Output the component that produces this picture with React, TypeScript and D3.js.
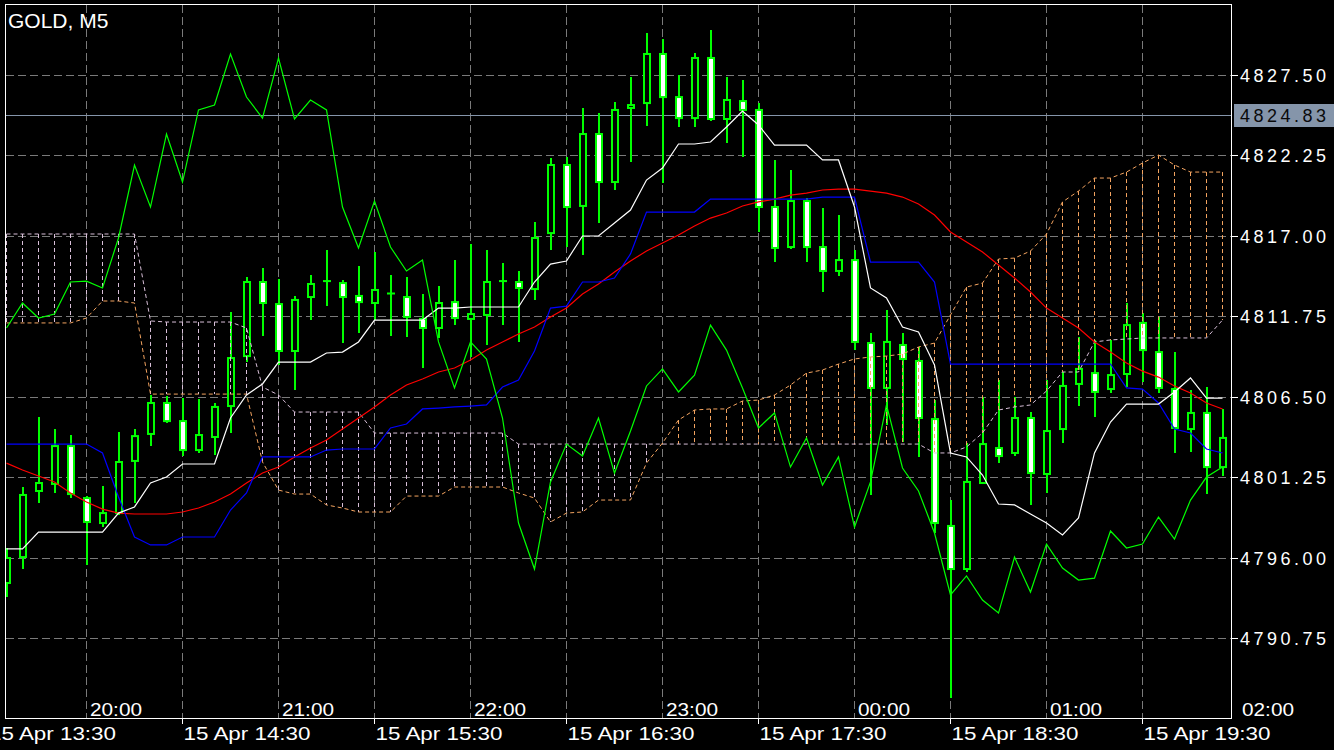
import React from "react";
import * as d3 from "d3";

// ---- data (GOLD, M5) ----
const opens = [
  4794.37, 4796.06, 4800.37, 4800.83, 4803.30, 4799.91, 4798.28, 4798.93, 4802.33, 4804.09,
  4806.11, 4804.93, 4803.04, 4803.89, 4805.91, 4809.17, 4814.00, 4812.56, 4809.50, 4813.02,
  4814.00, 4813.93, 4813.09, 4812.63, 4813.25, 4813.02, 4811.59, 4811.00, 4812.69, 4811.59,
  4811.85, 4814.06, 4814.00, 4813.54, 4817.19, 4821.63, 4818.96, 4823.65, 4820.52, 4825.35,
  4825.67, 4828.87, 4826.06, 4824.69, 4828.61, 4824.63, 4825.80, 4825.22, 4818.89, 4816.28,
  4819.28, 4816.28, 4814.72, 4815.43, 4810.02, 4807.09, 4809.89, 4808.85, 4805.06, 4798.09,
  4795.28, 4800.89, 4803.17, 4802.85, 4805.13, 4801.48, 4804.41, 4807.35, 4808.06, 4807.02,
  4808.00, 4811.33, 4809.43, 4807.02, 4804.41, 4805.46, 4801.93,
];
const highs = [
  4796.65, 4800.63, 4805.19, 4804.41, 4804.02, 4800.04, 4800.69, 4804.22, 4804.41, 4806.63,
  4806.56, 4806.43, 4806.37, 4806.11, 4812.04, 4814.33, 4814.91, 4814.19, 4813.09, 4814.46,
  4816.09, 4814.13, 4815.04, 4815.96, 4814.46, 4814.33, 4813.22, 4813.74, 4815.43, 4816.48,
  4816.09, 4815.24, 4814.72, 4817.91, 4822.09, 4822.15, 4825.35, 4825.02, 4825.74, 4827.37,
  4830.24, 4829.85, 4827.50, 4828.93, 4830.43, 4827.37, 4827.17, 4825.67, 4821.96, 4821.30,
  4819.48, 4818.83, 4818.37, 4816.09, 4810.67, 4812.17, 4810.67, 4809.76, 4806.30, 4799.78,
  4803.50, 4806.50, 4807.61, 4806.50, 4805.52, 4807.61, 4808.13, 4810.41, 4810.22, 4810.22,
  4812.63, 4811.98, 4811.72, 4809.43, 4806.96, 4807.15, 4805.72,
];
const lows = [
  4793.46, 4795.28, 4799.59, 4800.24, 4799.91, 4795.54, 4798.02, 4798.80, 4799.59, 4803.30,
  4804.80, 4802.65, 4802.85, 4802.72, 4804.15, 4808.78, 4810.48, 4808.59, 4806.96, 4811.52,
  4812.43, 4810.02, 4810.67, 4811.52, 4810.48, 4810.41, 4808.39, 4810.35, 4811.19, 4809.11,
  4809.89, 4811.19, 4810.09, 4812.83, 4816.09, 4816.28, 4815.76, 4817.85, 4820.00, 4821.83,
  4824.17, 4820.46, 4824.11, 4824.11, 4824.50, 4823.06, 4822.15, 4817.26, 4815.30, 4816.15,
  4815.30, 4813.35, 4814.39, 4809.56, 4800.11, 4804.67, 4803.56, 4802.59, 4797.63, 4786.87,
  4795.09, 4800.89, 4802.19, 4802.65, 4799.46, 4800.24, 4803.50, 4805.91, 4805.19, 4806.76,
  4807.15, 4807.48, 4806.76, 4802.85, 4802.91, 4800.17, 4801.35,
];
const closes = [
  4796.00, 4800.11, 4800.89, 4803.30, 4800.17, 4798.35, 4798.93, 4802.26, 4803.95, 4806.11,
  4804.93, 4803.04, 4804.02, 4805.85, 4809.04, 4814.00, 4812.63, 4809.50, 4812.83, 4813.87,
  4814.06, 4813.02, 4812.69, 4813.48, 4813.25, 4811.72, 4811.00, 4812.63, 4811.65, 4811.91,
  4814.00, 4814.06, 4813.61, 4816.87, 4821.63, 4818.89, 4823.65, 4820.52, 4825.22, 4825.54,
  4828.87, 4826.06, 4824.69, 4828.61, 4824.63, 4825.87, 4825.22, 4818.89, 4816.22, 4819.28,
  4816.28, 4814.72, 4815.43, 4810.09, 4807.09, 4810.09, 4808.98, 4805.13, 4798.28, 4795.28,
  4800.96, 4803.43, 4802.65, 4805.13, 4801.54, 4804.28, 4807.22, 4808.33, 4806.83, 4807.93,
  4811.19, 4809.56, 4807.09, 4804.48, 4805.46, 4801.93, 4803.83,
];
// closes of the 26 bars after the visible window (they feed the lagging span)
const chikouAhead = [
  4800.76, 4802.59, 4798.02, 4800.96, 4805.98, 4801.87, 4800.37, 4797.63, 4793.59, 4794.83,
  4793.26, 4792.41, 4796.06, 4793.78, 4796.91, 4795.35, 4794.56, 4794.69, 4797.76, 4796.65,
  4796.91, 4798.67, 4797.24, 4799.78, 4801.28, 4801.93,
];
const tenkan = [
  4796.59, 4796.59, 4797.69, 4797.69, 4797.69, 4797.69, 4797.69, 4798.93, 4799.33, 4800.89,
  4801.28, 4802.13, 4802.13, 4802.13, 4805.13, 4806.63, 4807.35, 4808.78, 4808.78, 4808.78,
  4809.37, 4809.43, 4810.09, 4811.52, 4811.52, 4811.52, 4811.52, 4812.30, 4812.30, 4812.37,
  4812.37, 4812.37, 4812.37, 4814.00, 4815.17, 4815.37, 4817.00, 4817.00, 4817.85, 4818.69,
  4820.65, 4821.43, 4823.00, 4823.00, 4823.13, 4824.11, 4825.15, 4824.24, 4822.93, 4822.93,
  4822.93, 4821.96, 4821.96, 4818.89, 4813.61, 4812.96, 4811.06, 4810.74, 4808.59, 4802.85,
  4802.59, 4801.41, 4799.52, 4799.46, 4798.87, 4798.28, 4797.50, 4798.61, 4802.85, 4804.87,
  4806.04, 4806.04, 4806.04, 4806.83, 4807.74, 4806.43, 4806.43,
];
const kijun = [
  4803.43, 4803.43, 4803.43, 4803.43, 4803.43, 4803.43, 4802.85, 4799.98, 4797.37, 4796.85,
  4796.85, 4797.37, 4797.37, 4797.37, 4799.13, 4800.24, 4802.59, 4802.59, 4802.59, 4802.59,
  4803.04, 4803.11, 4803.11, 4803.11, 4804.48, 4804.74, 4805.72, 4805.78, 4805.85, 4805.91,
  4805.98, 4807.15, 4807.61, 4809.50, 4812.30, 4812.43, 4814.00, 4814.00, 4814.26, 4815.83,
  4818.56, 4818.56, 4818.56, 4818.56, 4819.41, 4819.41, 4819.41, 4819.41, 4819.41, 4819.41,
  4819.41, 4819.54, 4819.54, 4819.54, 4815.30, 4815.30, 4815.30, 4815.30, 4814.00, 4808.65,
  4808.65, 4808.65, 4808.65, 4808.65, 4808.65, 4808.65, 4808.65, 4808.65, 4808.65, 4808.65,
  4807.09, 4807.02, 4806.11, 4804.41, 4804.15, 4803.11, 4802.85,
];
const movingAvg = [
  4802.19, 4801.74, 4801.35, 4800.96, 4800.24, 4799.65, 4799.19, 4798.93, 4798.87, 4798.87,
  4798.87, 4799.00, 4799.26, 4799.65, 4800.17, 4800.89, 4801.54, 4801.93, 4802.59, 4803.17,
  4803.69, 4804.41, 4805.13, 4805.85, 4806.63, 4807.28, 4807.67, 4808.13, 4808.39, 4808.91,
  4809.56, 4810.09, 4810.61, 4811.06, 4811.72, 4812.30, 4813.22, 4813.87, 4814.65, 4815.37,
  4816.02, 4816.54, 4817.06, 4817.65, 4818.17, 4818.50, 4818.96, 4819.22, 4819.41, 4819.67,
  4819.80, 4820.00, 4820.06, 4820.06, 4819.93, 4819.80, 4819.54, 4819.09, 4818.37, 4817.26,
  4816.61, 4815.96, 4815.11, 4814.26, 4813.35, 4812.30, 4811.65, 4811.00, 4810.09, 4809.43,
  4808.72, 4808.19, 4807.80, 4807.22, 4806.76, 4806.11, 4805.72,
];
const spanA = [
  4811.33, 4811.33, 4811.33, 4811.33, 4811.33, 4811.65, 4812.76, 4812.76, 4812.63, 4806.69,
  4806.69, 4806.69, 4806.69, 4806.69, 4806.69, 4806.69, 4802.26, 4800.43, 4800.17, 4800.17,
  4799.46, 4799.26, 4799.00, 4799.00, 4799.00, 4800.04, 4800.04, 4800.04, 4800.63, 4800.63,
  4800.63, 4800.63, 4800.24, 4799.91, 4798.35, 4798.93, 4799.00, 4799.78, 4799.78, 4799.78,
  4802.19, 4803.50, 4805.00, 4805.65, 4805.72, 4805.72, 4806.24, 4806.30, 4806.63, 4807.28,
  4808.06, 4808.26, 4808.65, 4808.98, 4809.11, 4809.17, 4809.30, 4809.76, 4810.02, 4811.85,
  4813.67, 4813.93, 4815.50, 4815.56, 4816.02, 4817.13, 4819.22, 4819.93, 4820.78, 4820.78,
  4821.17, 4821.76, 4822.28, 4821.63, 4821.17, 4821.17, 4821.17,
];
const spanB = [
  4817.13, 4817.13, 4817.13, 4817.13, 4817.13, 4817.13, 4817.13, 4817.13, 4817.13, 4811.46,
  4811.39, 4811.39, 4811.39, 4811.39, 4811.39, 4811.00, 4807.15, 4806.63, 4805.52, 4805.52,
  4805.52, 4805.52, 4805.52, 4804.15, 4804.15, 4804.15, 4804.15, 4804.15, 4804.15, 4804.15,
  4804.15, 4804.15, 4803.43, 4803.43, 4803.43, 4803.43, 4803.43, 4803.43, 4803.43, 4803.43,
  4803.43, 4803.43, 4803.43, 4803.43, 4803.43, 4803.43, 4803.43, 4803.43, 4803.43, 4803.43,
  4803.43, 4803.43, 4803.43, 4803.43, 4803.43, 4803.43, 4803.43, 4803.43, 4802.85, 4802.85,
  4803.24, 4804.15, 4805.65, 4805.85, 4805.98, 4806.89, 4808.13, 4808.13, 4810.09, 4810.22,
  4810.28, 4810.35, 4810.35, 4810.35, 4810.35, 4810.35, 4811.52,
];
const priceTicks = [4827.5, 4822.25, 4817.0, 4811.75, 4806.5, 4801.25, 4796.0, 4790.75];
const currentPrice = 4824.83;
const topTimeLabels = ["20:00", "21:00", "22:00", "23:00", "00:00", "01:00", "02:00"];
const topTimeBars = [5, 17, 29, 41, 53, 65, 77];
const bottomTimeLabels = [
  "15 Apr 13:30", "15 Apr 14:30", "15 Apr 15:30", "15 Apr 16:30",
  "15 Apr 17:30", "15 Apr 18:30", "15 Apr 19:30",
];
const bottomTimeBars = [-1, 11, 23, 35, 47, 59, 71];
const title = "GOLD, M5";

const W = 1334;
const H = 750;
const PL = 5.5, PR = 1231.5, PT = 4.5, PB = 718.5;
const FONT = "'Liberation Sans', Arial, Helvetica, sans-serif";
const GRID = "#7a7a7a";
const SANDY = "#f4a460";
const THISTLE = "#d8bfd8";

export default function App() {
  const x = d3.scaleLinear().domain([0, 76]).range([6.5, 1222.5]);
  const y = d3.scaleLinear().domain([4827.5, 4790.75]).range([75, 638.5]);
  const chikou = closes.slice(26).concat(chikouAhead);
  const line = d3
    .line<number>()
    .x((_, i) => x(i))
    .y((d) => y(d));
  const gridBars = d3.range(5, 77, 6);
  const snap = (v: number) => Math.round(v - 0.5) + 0.5;
  const cpY = snap(y(currentPrice));

  return (
    <div style={{ position: "absolute", left: 0, top: 0, width: W, height: H, background: "#000", overflow: "hidden" }}>
      <svg width={W} height={H} style={{ display: "block" }}>
        <defs>
          <clipPath id="plotClip">
            <rect x={6} y={5} width={1225} height={713} />
          </clipPath>
        </defs>
        <rect x={0} y={0} width={W} height={H} fill="#000" />

        {/* grid */}
        <g stroke={GRID} strokeWidth={1} strokeDasharray="8,4" shapeRendering="crispEdges">
          {priceTicks.map((p) => (
            <line key={"h" + p} x1={PL} x2={PR} y1={snap(y(p))} y2={snap(y(p))} />
          ))}
          {gridBars.map((b) => (
            <line key={"v" + b} x1={x(b)} x2={x(b)} y1={PT} y2={PB} />
          ))}
        </g>

        <g clipPath="url(#plotClip)">
          {/* current price line */}
          <line x1={PL} x2={PR} y1={cpY} y2={cpY} stroke="#8595aa" strokeWidth={1} shapeRendering="crispEdges" />

          {/* candles */}
          {opens.map((o, i) => {
            const c = x(i) + 0.5;
            const yo = y(o);
            const yc = y(closes[i]);
            const top = Math.min(yo, yc);
            const h = Math.abs(yo - yc);
            const bear = closes[i] < o;
            return (
              <g key={"c" + i}>
                <line x1={c} x2={c} y1={y(highs[i])} y2={y(lows[i])} stroke="#00ff00" strokeWidth={2} />
                {h < 1.5 ? (
                  <line x1={c - 4} x2={c + 4} y1={top} y2={top} stroke="#00ff00" strokeWidth={2} />
                ) : (
                  <rect x={c - 3} y={top} width={6} height={h} fill={bear ? "#ffffff" : "#000000"} stroke="#00ff00" strokeWidth={2} />
                )}
              </g>
            );
          })}

          {/* ichimoku cloud hatching */}
          <g strokeWidth={1} strokeDasharray="4,3">
            {spanA.map((a, i) => (
              <line
                key={"k" + i}
                x1={x(i)}
                x2={x(i)}
                y1={y(Math.max(a, spanB[i]))}
                y2={y(Math.min(a, spanB[i]))}
                stroke={a >= spanB[i] ? SANDY : THISTLE}
              />
            ))}
          </g>
          <path d={line(spanA) || ""} fill="none" stroke={SANDY} strokeWidth={1} strokeDasharray="4,3" />
          <path d={line(spanB) || ""} fill="none" stroke={THISTLE} strokeWidth={1} strokeDasharray="4,3" />

          {/* lines */}
          <path d={line(movingAvg) || ""} fill="none" stroke="#ff0000" strokeWidth={1.2} />
          <path d={line(kijun) || ""} fill="none" stroke="#0000ff" strokeWidth={1.2} />
          <path d={line(tenkan) || ""} fill="none" stroke="#ffffff" strokeWidth={1.2} />
          <path d={line(chikou) || ""} fill="none" stroke="#00ff00" strokeWidth={1.2} />
        </g>

        {/* frame */}
        <rect x={PL} y={PT} width={PR - PL} height={PB - PT} fill="none" stroke="#ffffff" strokeWidth={1} shapeRendering="crispEdges" />

        {/* price axis */}
        {priceTicks.map((p) => (
          <g key={"pt" + p}>
            <line x1={PR} x2={PR + 6} y1={snap(y(p))} y2={snap(y(p))} stroke="#ffffff" shapeRendering="crispEdges" />
            <text x={1240} y={y(p) + 6.5} fill="#ffffff" fontFamily={FONT} fontSize={18} textLength={86} lengthAdjust="spacing">
              {p.toFixed(2)}
            </text>
          </g>
        ))}
        <rect x={1234} y={cpY - 11.5} width={100} height={23} fill="#8595aa" />
        <text x={1240} y={cpY + 6.5} fill="#0a0a0a" fontFamily={FONT} fontSize={18} textLength={86} lengthAdjust="spacing">
          {currentPrice.toFixed(2)}
        </text>

        {/* time axes */}
        {topTimeLabels.map((t, k) => (
          <text key={"tt" + t} x={x(topTimeBars[k]) + 3.5} y={716} fill="#ffffff" fontFamily={FONT} fontSize={19} textLength={52} lengthAdjust="spacingAndGlyphs">
            {t}
          </text>
        ))}
        {bottomTimeLabels.map((t, k) => (
          <g key={"bt" + t}>
            <line x1={x(bottomTimeBars[k])} x2={x(bottomTimeBars[k])} y1={PB} y2={PB + 5} stroke="#ffffff" shapeRendering="crispEdges" />
            <text
              x={k === 0 ? x(bottomTimeBars[k]) - 1.5 : x(bottomTimeBars[k]) + 1}
              y={740}
              fill="#ffffff"
              fontFamily={FONT}
              fontSize={19}
              textLength={127}
              lengthAdjust="spacingAndGlyphs"
            >
              {t}
            </text>
          </g>
        ))}

        {/* title */}
        <text x={8} y={28} fill="#ffffff" fontFamily={FONT} fontSize={21}>
          {title}
        </text>
      </svg>
    </div>
  );
}
